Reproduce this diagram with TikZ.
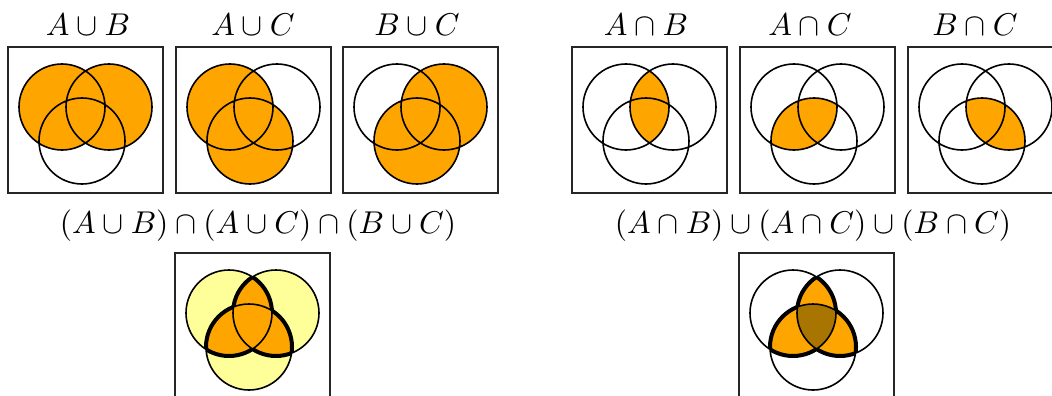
\documentclass[tikz,border=0pt]{standalone}
\definecolor{vorange}{HTML}{FFA500}
\definecolor{vyellow}{HTML}{FFFF99}
\definecolor{vbrown}{HTML}{A87500}
\tikzset{
  boxline/.style={draw=black!85, line width=1.1pt},
  ring/.style={draw=black, line width=1.6pt},
  rim/.style={draw=black, line width=4pt},
  lbl/.style={anchor=base, inner sep=0pt, scale=3.15}
}
\newcommand\VR{43pt}
\newcommand\vennpts{%
  \draw[boxline] (0,0) rectangle (155,146);
  \coordinate (A) at (54,60);
  \coordinate (B) at (101,60);
  \coordinate (C) at (74,94);}
\newcommand\vennrings{\draw[ring] (A) circle[radius=\VR] (B) circle[radius=\VR] (C) circle[radius=\VR];}
\newcommand\vennrim{%
  \begin{scope}[even odd rule]\clip (B) circle[radius=\VR] (C) circle[radius=\VR];
    \draw[rim] (A) circle[radius=\VR];\end{scope}
  \begin{scope}[even odd rule]\clip (A) circle[radius=\VR] (C) circle[radius=\VR];
    \draw[rim] (B) circle[radius=\VR];\end{scope}
  \begin{scope}[even odd rule]\clip (A) circle[radius=\VR] (B) circle[radius=\VR];
    \draw[rim] (C) circle[radius=\VR];\end{scope}}
\newcommand\pairfill[1]{%
  \begin{scope}\clip (A) circle[radius=\VR];
    \fill[#1] (B) circle[radius=\VR] (C) circle[radius=\VR];\end{scope}
  \begin{scope}\clip (B) circle[radius=\VR];
    \fill[#1] (C) circle[radius=\VR];\end{scope}}
\begin{document}
\begin{tikzpicture}[x=1pt,y=-1pt]
\fill[white] (0,0) rectangle (1052,396);
\useasboundingbox (0,0) rectangle (1052,396);

% labels
\node[lbl] (l1) at (88,36) {$A\cup B$};
\node[lbl] (l2) at (253,36) {$A\cup C$};
\node[lbl] (l3) at (417,36) {$B\cup C$};
\node[lbl] (l4) at (646,36) {$A\cap B$};
\node[lbl] (l5) at (810,36) {$A\cap C$};
\node[lbl] (l6) at (975,36) {$B\cap C$};
\node[lbl] (fl) at (258,233) {$(A\cup B)\cap(A\cup C)\cap(B\cup C)$};
\node[lbl] (fr) at (813,233) {$(A\cap B)\cup(A\cap C)\cup(B\cap C)$};

% A union B
\begin{scope}[shift={(8,47)}]
  \vennpts
  \fill[vorange] (A) circle[radius=\VR] (B) circle[radius=\VR];
  \vennrings
\end{scope}
% A union C
\begin{scope}[shift={(176,47)}]
  \vennpts
  \fill[vorange] (A) circle[radius=\VR] (C) circle[radius=\VR];
  \vennrings
\end{scope}
% B union C
\begin{scope}[shift={(343,47)}]
  \vennpts
  \fill[vorange] (B) circle[radius=\VR] (C) circle[radius=\VR];
  \vennrings
\end{scope}
% A cap B
\begin{scope}[shift={(572,47)}]
  \vennpts
  \begin{scope}\clip (A) circle[radius=\VR]; \fill[vorange] (B) circle[radius=\VR];\end{scope}
  \vennrings
\end{scope}
% A cap C
\begin{scope}[shift={(740,47)}]
  \vennpts
  \begin{scope}\clip (A) circle[radius=\VR]; \fill[vorange] (C) circle[radius=\VR];\end{scope}
  \vennrings
\end{scope}
% B cap C
\begin{scope}[shift={(908,47)}]
  \vennpts
  \begin{scope}\clip (B) circle[radius=\VR]; \fill[vorange] (C) circle[radius=\VR];\end{scope}
  \vennrings
\end{scope}
% bottom left
\begin{scope}[shift={(175,253)}]
  \vennpts
  \fill[vyellow] (A) circle[radius=\VR] (B) circle[radius=\VR] (C) circle[radius=\VR];
  \pairfill{vorange}
  \vennrings
  \vennrim
\end{scope}
% bottom right
\begin{scope}[shift={(739,253)}]
  \vennpts
  \pairfill{vorange}
  \begin{scope}\clip (A) circle[radius=\VR]; \clip (B) circle[radius=\VR];
    \fill[vbrown] (C) circle[radius=\VR];\end{scope}
  \vennrings
  \vennrim
\end{scope}
\end{tikzpicture}
\end{document}
